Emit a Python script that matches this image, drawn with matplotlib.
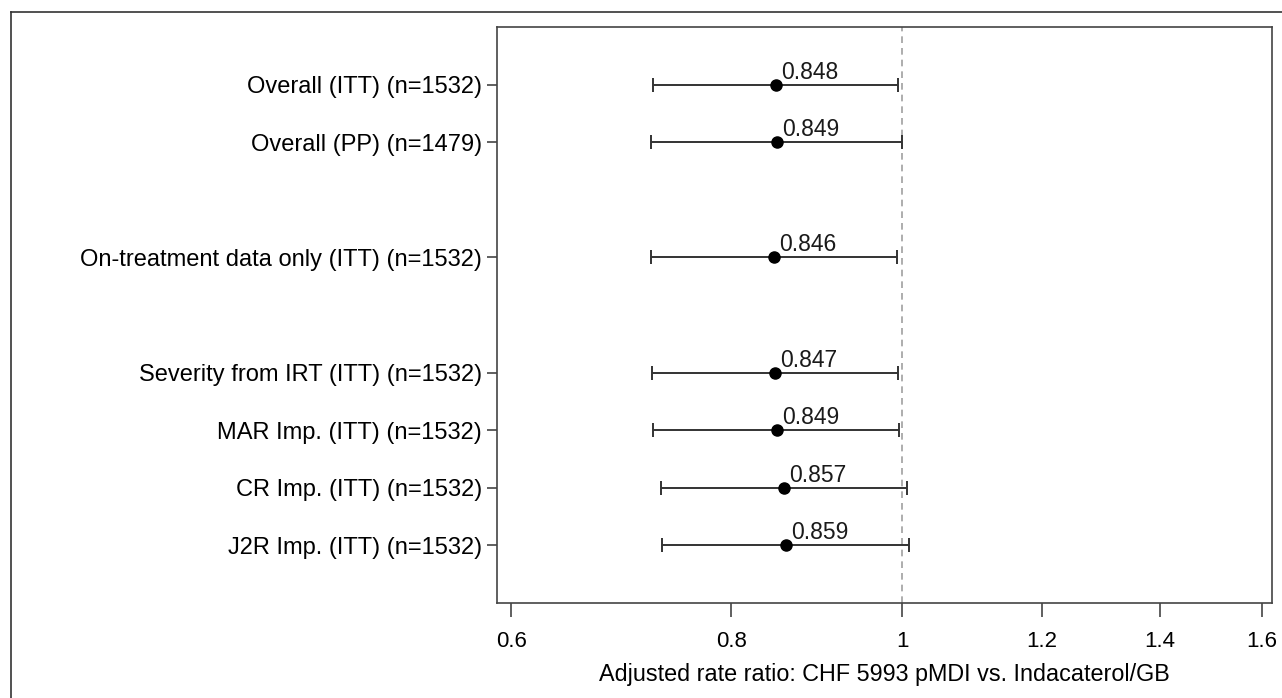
import numpy as np
import matplotlib.pyplot as plt
from matplotlib.lines import Line2D
from matplotlib.ticker import FixedLocator, NullLocator

plt.rcParams['font.family'] = ['Liberation Sans', 'DejaVu Sans']

labels = ["Overall (ITT) (n=1532)", "Overall (PP) (n=1479)",
          "On-treatment data only (ITT) (n=1532)",
          "Severity from IRT (ITT) (n=1532)", "MAR Imp. (ITT) (n=1532)",
          "CR Imp. (ITT) (n=1532)", "J2R Imp. (ITT) (n=1532)"]
rows = [1, 2, 4, 6, 7, 8, 9]
ratio = [0.848, 0.849, 0.846, 0.847, 0.849, 0.857, 0.859]
lower = [0.722, 0.720, 0.720, 0.721, 0.722, 0.730, 0.731]
upper = [0.995, 1.000, 0.993, 0.994, 0.996, 1.006, 1.009]
xticks = [0.6, 0.8, 1.0, 1.2, 1.4, 1.6]
xticklabels = ["0.6", "0.8", "1", "1.2", "1.4", "1.6"]

fig = plt.figure(figsize=(12.82, 6.98), dpi=100)
ax = fig.add_axes([0.3877, 0.1361, 0.9922 - 0.3877, 0.9613 - 0.1361])

ax.axvline(1.0, color="#a0a0a0", lw=1.2, ls=(0, (4, 3)), zorder=1)

r = np.array(ratio)
ax.errorbar(r, rows, xerr=[r - np.array(lower), np.array(upper) - r],
            fmt="none", ecolor="#333333", elinewidth=1.4, capsize=5,
            capthick=1.4, zorder=2)
ax.plot(r, rows, "o", color="black", markersize=8, zorder=3)

for x, y in zip(ratio, rows):
    ax.annotate(f"{x:.3f}", (x, y), xytext=(3.5, 4.3), textcoords="offset points",
                ha="left", va="baseline", fontsize=16.5, color="#1a1a1a")

ax.set_xscale("log")
ax.set_xlim(0.589, 1.621)
ax.xaxis.set_major_locator(FixedLocator(xticks))
ax.xaxis.set_minor_locator(NullLocator())
ax.set_xticklabels(xticklabels, fontsize=16)
ax.set_ylim(10, 0)
ax.set_yticks(rows)
ax.set_yticklabels(labels, fontsize=17)
ax.tick_params(axis="x", length=10, width=1.2, color="#444444", pad=10)
ax.tick_params(axis="y", length=7, width=1.2, color="#444444", pad=4)
for s in ax.spines.values():
    s.set_color("#444444")
    s.set_linewidth(1.2)

ax.set_xlabel("Adjusted rate ratio: CHF 5993 pMDI vs. Indacaterol/GB",
              fontsize=16.8, labelpad=8)

# outer frame
fx = 11 / 1282
fy = 1 - 12 / 698
fig.add_artist(Line2D([fx, fx], [0, fy], transform=fig.transFigure,
                      color="#333333", lw=1.2))
fig.add_artist(Line2D([fx, 1], [fy, fy], transform=fig.transFigure,
                      color="#333333", lw=1.2))

fig.savefig("out.png", dpi=100)
